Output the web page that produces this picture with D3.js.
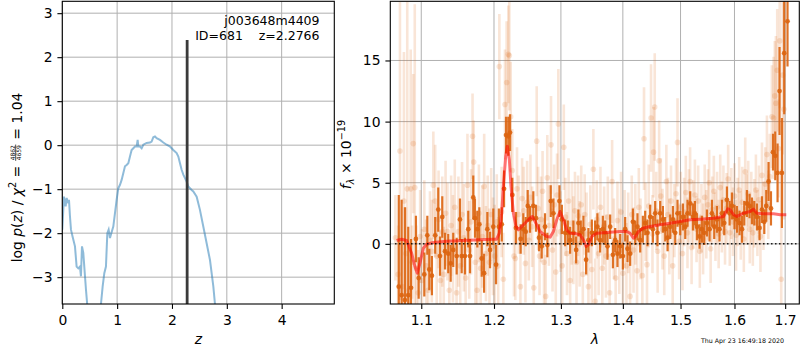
<!DOCTYPE html>
<html>
<head>
<meta charset="utf-8">
<script src="https://cdn.jsdelivr.net/npm/d3@7"></script>
<style>
body { margin: 0; background: #fff; }
text { font-family: "DejaVu Sans", sans-serif; fill: #000; }
</style>
</head>
<body>
<div id="chart"></div>
<script>
// ---- left panel: redshift probability ----
const pzZ = [0.000, 0.030, 0.061, 0.079, 0.109, 0.122, 0.140, 0.158, 0.188, 0.231, 0.261, 0.292, 0.322, 0.340, 0.359, 0.383, 0.401, 0.432, 0.480,
  0.680, 0.705, 0.736, 0.766, 0.796, 0.821, 0.845, 0.869, 0.894, 0.930, 0.960, 0.991, 1.021, 1.052, 1.082, 1.112, 1.143, 1.173, 1.204,
  1.234, 1.264, 1.295, 1.325, 1.356, 1.374, 1.386, 1.416, 1.447, 1.477, 1.538, 1.599, 1.629, 1.660, 1.690, 1.720, 1.781, 1.842, 1.903,
  1.964, 2.024, 2.085, 2.116, 2.146, 2.176, 2.207, 2.237, 2.267, 2.298, 2.328, 2.359, 2.389, 2.450, 2.510, 2.571, 2.632, 2.693, 2.754,
  2.784, 2.820];
const pzLog = [-1.92, -1.17, -1.39, -1.20, -1.32, -1.24, -1.62, -1.92, -2.08, -2.30, -2.76, -2.80, -2.76, -2.98, -2.30, -2.45, -2.76, -3.29, -4.00,
  -4.00, -3.61, -3.21, -2.91, -2.76, -2.00, -1.92, -2.11, -2.00, -1.85, -1.55, -1.24, -0.98, -0.90, -0.79, -0.64, -0.48, -0.45, -0.41,
  -0.26, -0.11, -0.07, -0.03, -0.03, 0.12, -0.03, -0.03, -0.07, 0.01, 0.05, 0.06, 0.08, 0.18, 0.20, 0.16, 0.12, 0.06, 0.01,
  -0.03, -0.11, -0.18, -0.26, -0.41, -0.56, -0.67, -0.75, -0.83, -0.94, -0.98, -1.02, -1.05, -1.17, -1.47, -1.85, -2.23, -2.61, -3.21,
  -3.61, -4.00];
const zBest = 2.2766;
const zBestTop = 2.39;
const zTicks = [0, 1, 2, 3, 4];
const logTicks = [-3, -2, -1, 0, 1, 2, 3];
const fieldName = "j003648m4409";
const idText = "ID=681    z=2.2766";

// ---- right panel: spectrum ----
const modelLam = [1.0680, 1.0744, 1.0809, 1.0874, 1.0917, 1.0948, 1.0983, 1.1027, 1.1071, 1.1160, 1.1339, 1.1568, 1.1801, 1.1990, 1.2038,
  1.2077, 1.2111, 1.2135, 1.2169, 1.2193, 1.2222, 1.2247, 1.2281, 1.2320, 1.2355, 1.2404, 1.2478, 1.2528, 1.2563, 1.2604, 1.2679,
  1.2782, 1.2833, 1.2884, 1.2935, 1.2987, 1.3039, 1.3091, 1.3143, 1.3249, 1.3302, 1.3354, 1.3397, 1.3434, 1.3488, 1.3569, 1.3732,
  1.3954, 1.4066, 1.4122, 1.4179, 1.4207, 1.4264, 1.4350, 1.4465, 1.4638, 1.4815, 1.4993, 1.5173, 1.5356, 1.5604, 1.5792, 1.5874,
  1.5918, 1.5982, 1.6046, 1.6174, 1.6304, 1.6369, 1.6435, 1.6567, 1.6767, 1.6900, 1.7023];
const modelFlux = [0.27, 0.38, 0.27, -0.77, -1.86, -2.40, -1.58, -0.36, -0.03, 0.11, 0.22, 0.27, 0.33, 0.38, 0.38,
  0.87, 2.51, 4.70, 7.16, 7.98, 6.89, 4.70, 2.51, 1.42, 1.15, 1.42, 1.83, 2.10, 2.24, 1.83, 1.01,
  0.60, 0.55, 1.01, 1.97, 2.65, 1.97, 1.15, 0.87, 0.82, 0.74, 0.33, -0.22, -0.08, 0.60, 0.87, 0.93,
  1.01, 1.01, 0.87, 0.46, 0.55, 1.01, 1.29, 1.42, 1.56, 1.69, 1.83, 1.97, 2.02, 2.10, 2.24, 2.87,
  2.79, 2.38, 2.24, 2.51, 2.65, 2.84, 2.51, 2.46, 2.46, 2.38, 2.38];

// binned spectrum (dark points)
const binLam = [1.0708, 1.0745, 1.0787, 1.0830, 1.0866, 1.0930, 1.0966, 1.1040, 1.1080, 1.1106, 1.1141, 1.1185, 1.1226, 1.1249, 1.1280,
  1.1317, 1.1361, 1.1394, 1.1429, 1.1476, 1.1521, 1.1545, 1.1590, 1.1636, 1.1660, 1.1706, 1.1730, 1.1763, 1.1791, 1.1825, 1.1858,
  1.1905, 1.1943, 1.1990, 1.2029, 1.2070, 1.2112, 1.2145, 1.2174, 1.2207, 1.2232, 1.2266, 1.2320, 1.2389, 1.2428, 1.2464, 1.2494,
  1.2528, 1.2578, 1.2618, 1.2664, 1.2705, 1.2755, 1.2791, 1.2843, 1.2884, 1.2977, 1.3015, 1.3066, 1.3108, 1.3144, 1.3196, 1.3239,
  1.3275, 1.3313, 1.3355, 1.3398, 1.3435, 1.3490, 1.3543, 1.3580, 1.3624, 1.3669, 1.3707, 1.3745, 1.3789, 1.3834, 1.3872, 1.3910,
  1.3955, 1.4000, 1.4039, 1.4078, 1.4123, 1.4169, 1.4208, 1.4247, 1.4293, 1.4339, 1.4379, 1.4419, 1.4465, 1.4512, 1.4552, 1.4592,
  1.4639, 1.4687, 1.4728, 1.4769, 1.4816, 1.4864, 1.4905, 1.4946, 1.4994, 1.5043, 1.5085, 1.5126, 1.5175, 1.5224, 1.5260, 1.5297,
  1.5345, 1.5388, 1.5431, 1.5481, 1.5530, 1.5574, 1.5617, 1.5667, 1.5716, 1.5761, 1.5805, 1.5856, 1.5906, 1.5951, 1.6001, 1.6047,
  1.6097, 1.6144, 1.6188, 1.6240, 1.6291, 1.6338, 1.6383, 1.6436, 1.6487, 1.6535, 1.6581, 1.6620, 1.6666, 1.6714, 1.6754, 1.6800,
  1.6846, 1.6886, 1.6934, 1.6981, 1.7048];
const binFlux = [-3.5, -4.2, -4.6, -4.2, -3.6, 0.4, -2.8, -2.5, 0.7, -2.1, -2.6, 0.7, 2.8, -1.0, 2.2,
  -0.6, -0.8, -1.6, -0.5, -1.0, 2.0, -1.0, -1.0, 1.2, -1.0, 3.8, 2.1, 1.2, 1.6, -1.2, -2.4,
  1.2, -0.5, 1.4, -1.7, 1.4, 1.6, 4.5, 8.9, 8.8, 9.1, 4.0, 1.3, 0.4, 1.2, 1.0, 3.1,
  2.0, 3.1, 2.1, 0.5, -0.2, 1.4, -0.1, 3.5, 2.5, 3.5, 2.0, 0.9, 0.9, 0.3, 0.9, -0.5,
  1.7, 0.9, 1.2, -1.3, 0.3, 0.9, 0.9, 1.4, 0.3, 1.2, 0.9, -0.2, 1.4, -0.9, 0.3, -0.8,
  -0.2, -1.0, 1.2, -0.4, -0.8, 1.8, 0.9, 1.4, 0.3, 1.2, 1.7, 0.9, 2.2, 1.2, 2.5, 0.9,
  2.5, 2.0, 1.2, 0.5, 1.4, 2.0, 0.9, 2.5, 1.7, 2.2, 1.4, 2.5, 3.3, 2.2, 2.5, 1.4,
  0.6, 1.2, 0.9, 1.7, 1.2, 2.5, 1.4, 2.0, 1.2, 2.5, 1.7, 3.6, 2.5, 3.1, 2.2, 2.0,
  1.7, 1.2, 2.5, 3.3, 3.1, 2.7, 2.5, 2.2, 1.3, 2.8, 1.8, 3.1, 5.1, 2.9, 7.5, 7.2,
  5.8, 12.5, 5.8, 15.6, 18.2];
const binErr = [7.5, 7.8, 7.6, 5.6, 4.0, 1.9, 1.7, 1.8, 1.6, 1.7, 1.6, 1.5, 1.8, 1.6, 1.7,
  1.5, 1.6, 1.5, 1.4, 1.5, 1.7, 1.4, 1.5, 1.5, 1.4, 1.8, 1.6, 1.5, 1.4, 1.5, 1.6,
  1.4, 1.5, 1.5, 1.6, 1.5, 1.4, 1.5, 1.5, 1.6, 1.5, 1.4, 1.3, 1.2, 1.3, 1.2, 1.3,
  1.1, 1.2, 1.1, 1.1, 1.0, 1.1, 1.0, 1.3, 1.2, 1.3, 1.2, 1.1, 1.0, 1.1, 1.0, 1.1,
  1.1, 1.0, 1.1, 1.2, 1.0, 1.1, 1.0, 1.1, 1.0, 1.1, 1.0, 1.1, 1.0, 1.1, 1.0, 1.1,
  1.0, 1.1, 1.0, 1.1, 1.0, 1.1, 1.0, 1.1, 1.0, 1.1, 1.0, 1.1, 1.0, 1.1, 1.0, 1.1,
  1.0, 1.1, 1.0, 1.1, 1.0, 1.1, 1.0, 1.1, 1.0, 1.1, 1.0, 1.1, 1.0, 1.1, 1.0, 1.1,
  1.0, 1.1, 1.0, 1.1, 1.0, 1.1, 1.0, 1.1, 1.0, 1.1, 1.0, 1.1, 1.0, 1.1, 1.0, 1.1,
  1.0, 1.1, 1.0, 1.1, 1.0, 1.1, 1.0, 1.1, 1.0, 1.1, 1.0, 1.3, 1.6, 1.4, 1.5, 2.0,
  2.4, 3.6, 4.5, 5.0, 3.7];

// individual spectrum pixels (light points)
const rawLam = [1.0665, 1.0700, 1.0723, 1.0750, 1.0774, 1.0800, 1.0817, 1.0840, 1.0862, 1.0880, 1.0895, 1.0915, 1.0935, 1.0960, 1.0985,
  1.1010, 1.1040, 1.1065, 1.1090, 1.1115, 1.1140, 1.1160, 1.1185, 1.1205, 1.1230, 1.1255, 1.1280, 1.1300, 1.1325, 1.1350, 1.1375,
  1.1400, 1.1425, 1.1450, 1.1475, 1.1500, 1.1525, 1.1550, 1.1575, 1.1600, 1.1625, 1.1650, 1.1675, 1.1696, 1.1712, 1.1735, 1.1760,
  1.1785, 1.1810, 1.1835, 1.1860, 1.1885, 1.1910, 1.1935, 1.1960, 1.1985, 1.2010, 1.2040, 1.2060, 1.2077, 1.2110, 1.2135, 1.2159,
  1.2183, 1.2207, 1.2222, 1.2242, 1.2265, 1.2290, 1.2310, 1.2335, 1.2360, 1.2385, 1.2410, 1.2435, 1.2460, 1.2485, 1.2510, 1.2535,
  1.2560, 1.2585, 1.2629, 1.2650, 1.2672, 1.2695, 1.2718, 1.2740, 1.2765, 1.2790, 1.2815, 1.2847, 1.2870, 1.2895, 1.2920, 1.2940,
  1.2960, 1.2995, 1.3020, 1.3045, 1.3070, 1.3095, 1.3120, 1.3145, 1.3170, 1.3195, 1.3220, 1.3245, 1.3270, 1.3295, 1.3320, 1.3345,
  1.3375, 1.3405, 1.3435, 1.3465, 1.3490, 1.3515, 1.3545, 1.3570, 1.3600, 1.3630, 1.3660, 1.3690, 1.3720, 1.3750, 1.3780, 1.3821,
  1.3850, 1.3880, 1.3910, 1.3940, 1.3970, 1.4000, 1.4030, 1.4060, 1.4090, 1.4122, 1.4150, 1.4180, 1.4210, 1.4240, 1.4270, 1.4300,
  1.4330, 1.4359, 1.4385, 1.4410, 1.4440, 1.4480, 1.4505, 1.4523, 1.4544, 1.4570, 1.4595, 1.4621, 1.4650, 1.4680, 1.4710, 1.4748,
  1.4775, 1.4800, 1.4830, 1.4860, 1.4890, 1.4920, 1.4946, 1.4975, 1.5005, 1.5035, 1.5065, 1.5095, 1.5125, 1.5150, 1.5173, 1.5200,
  1.5230, 1.5260, 1.5290, 1.5320, 1.5350, 1.5380, 1.5410, 1.5440, 1.5470, 1.5500, 1.5523, 1.5550, 1.5580, 1.5610, 1.5640, 1.5670,
  1.5700, 1.5730, 1.5760, 1.5790, 1.5820, 1.5850, 1.5880, 1.5910, 1.5940, 1.5970, 1.6000, 1.6030, 1.6060, 1.6090, 1.6120, 1.6150,
  1.6180, 1.6207, 1.6235, 1.6265, 1.6295, 1.6325, 1.6355, 1.6385, 1.6415, 1.6445, 1.6475, 1.6505, 1.6535, 1.6565, 1.6600, 1.6633,
  1.6660, 1.6690, 1.6732, 1.6766, 1.6790, 1.6812, 1.6840, 1.6865, 1.6890, 1.6920, 1.6950, 1.6975];
const rawFlux = [0.5, -2.5, 7.6, -3.5, 3.5, -0.8, 4.5, -3.8, 4.5, -1.5, 8.2, 4.6, -2.0, -4.0, 0.6,
  -3.0, 1.2, -1.8, -3.8, 0.3, -0.6, 4.8, 3.5, -1.0, 2.0, -3.0, 1.0, -2.5, 2.5, 1.0, -3.8,
  1.5, -0.4, 3.0, -4.0, 1.0, -1.8, 2.4, 0.5, -2.8, 4.8, -0.5, 1.8, 8.8, 6.7, -1.5, -3.8,
  2.5, -2.0, 0.6, 4.7, -0.8, 1.5, -1.5, 2.4, -0.2, -1.0, 1.8, -1.8, 14.5, 2.6, -2.9, 11.4,
  13.2, 15.5, 15.4, 10.4, 6.0, -1.0, -1.2, 4.5, 2.4, -3.5, 3.7, 2.7, -1.6, 3.4, 0.3, 3.8,
  1.4, -3.6, 8.4, 2.9, -1.0, 2.0, 4.3, -1.5, -4.3, 5.4, 1.5, 8.1, -0.5, 3.2, -2.3, 4.0,
  9.8, 1.0, -1.8, 7.9, 2.2, -0.8, 3.5, -3.0, 1.7, 0.3, 2.7, -1.5, 2.3, 0.0, 3.2, -2.5,
  2.4, 0.8, -3.5, 1.6, -2.1, 6.1, -4.7, 2.0, -0.8, 3.0, -2.0, 1.5, -1.0, 2.2, -4.0, 5.1,
  0.4, -2.8, 1.9, -0.6, 2.6, -2.4, 1.2, -1.8, 0.9, -4.3, 2.4, -0.5, 1.6, -2.2, 3.0, 0.4,
  -2.6, 8.6, 1.8, -1.7, 3.1, 10.3, 0.8, 7.5, 11.2, 2.7, -0.6, 6.8, 3.9, 1.2, -1.0, 5.1,
  2.4, 0.6, 3.5, -1.8, 1.9, 4.1, 8.3, 0.2, 3.0, -0.8, 2.6, 4.2, 0.9, 3.1, 5.1, -0.3,
  2.4, 4.0, 1.2, 3.5, -0.6, 2.1, 0.4, 3.8, 1.6, 3.2, 5.0, -0.4, 2.8, 4.3, 1.4, 3.0,
  0.8, 4.6, 2.2, 3.6, 1.0, 2.9, 5.3, 0.9, 3.3, 1.8, 3.9, 0.7, 2.6, 4.4, 1.5, 3.4,
  0.4, 5.9, 2.8, 4.1, 1.2, 3.0, 0.9, 2.5, 4.4, 1.7, 3.6, 0.6, 5.6, 2.3, 4.9, 7.3,
  3.2, 5.5, 10.4, 10.3, 12.1, 11.5, 14.2, 7.8, 16.6, -2.9, 13.8, 11.0];
const rawErr = [3.5, 4.0, 12.2, 4.0, 12.2, 3.8, 16.0, 3.5, 11.4, 3.0, 5.7, 15.0, 3.5, 3.5, 3.8,
  4.2, 4.0, 3.8, 4.4, 4.0, 4.2, 4.4, 4.6, 4.3, 4.0, 4.1, 4.5, 3.9, 4.3, 4.0, 4.2,
  4.1, 4.4, 3.9, 4.2, 4.5, 4.0, 4.3, 4.4, 3.9, 4.2, 4.0, 4.3, 3.5, 3.4, 4.1, 4.2,
  4.0, 3.8, 4.2, 4.3, 3.9, 4.1, 4.4, 3.8, 4.0, 4.2, 3.9, 4.0, 4.3, 3.7, 3.8, 4.5,
  5.0, 4.0, 4.5, 4.5, 3.4, 3.3, 3.4, 3.4, 3.2, 3.5, 3.3, 3.6, 3.2, 3.4, 3.3, 3.5,
  3.3, 3.5, 4.5, 3.4, 3.2, 3.5, 3.3, 3.6, 3.4, 3.5, 3.3, 4.0, 3.4, 3.3, 3.5, 3.4,
  4.5, 3.3, 3.4, 3.5, 3.2, 3.4, 3.5, 3.3, 3.4, 3.6, 3.2, 3.4, 3.3, 3.5, 3.2, 3.4,
  3.3, 3.4, 3.5, 3.2, 3.4, 3.3, 3.5, 3.2, 3.4, 3.3, 3.5, 3.2, 3.4, 3.3, 3.2, 3.4,
  3.3, 3.4, 3.2, 3.5, 3.3, 3.4, 3.2, 3.5, 3.3, 3.4, 3.2, 3.5, 3.3, 3.4, 3.2, 3.3,
  3.4, 4.2, 3.2, 3.3, 3.4, 4.4, 3.2, 3.7, 4.4, 3.2, 3.4, 3.3, 3.1, 3.3, 3.2, 3.0,
  3.0, 3.1, 2.9, 3.2, 3.0, 2.9, 3.6, 3.1, 2.9, 3.0, 2.8, 3.0, 2.9, 3.0, 2.8, 3.0,
  2.8, 2.9, 2.7, 2.9, 3.0, 2.8, 2.9, 2.7, 2.8, 2.9, 2.7, 2.8, 2.7, 2.9, 2.8, 2.9,
  2.8, 2.7, 2.9, 2.8, 2.7, 2.9, 2.8, 2.7, 2.9, 2.8, 2.7, 2.9, 2.8, 2.7, 2.8, 2.9,
  2.7, 2.8, 2.9, 2.7, 2.8, 2.9, 2.7, 2.8, 2.9, 2.7, 2.8, 2.9, 2.7, 2.8, 3.0, 3.2,
  2.8, 3.5, 4.2, 5.0, 4.5, 5.5, 5.0, 4.0, 5.5, 9.0, 6.5, 9.0];
const lamTicks = [1.1, 1.2, 1.3, 1.4, 1.5, 1.6, 1.7];
const fluxTicks = [0, 5, 10, 15];
const stamp = "Thu Apr 23 16:49:18 2020";

const W = 800, H = 350;
const fs = 13.9;
const orange = "#dc6410";

const svg = d3.select("#chart").append("svg")
  .attr("width", W).attr("height", H);

const minus = d => d < 0 ? "\u2212" + Math.abs(d) : String(d);

// panel boxes
const L = {x0: 62.3, x1: 334.3, y0: 1.3, y1: 304};
const R = {x0: 390.3, x1: 799.3, y0: 1.3, y1: 304};

const xz = d3.scaleLinear([0, 4.96], [L.x0, L.x1]);
const yp = d3.scaleLinear([-3.61, 3.27], [L.y1, L.y0]);
const xl = d3.scaleLog([1.06, 1.729], [R.x0, R.x1]);
const yf = d3.scaleLinear([-4.92, 19.84], [R.y1, R.y0]);

const defs = svg.append("defs");
[["clipL", L], ["clipR", R]].forEach(([id, b]) => {
  defs.append("clipPath").attr("id", id).append("rect")
    .attr("x", b.x0).attr("y", b.y0).attr("width", b.x1 - b.x0).attr("height", b.y1 - b.y0);
});

function grid(b, xs, xt, ys, yt) {
  const g = svg.append("g").attr("stroke", "#b0b0b0").attr("stroke-width", 1);
  g.selectAll(null).data(xt).join("line")
    .attr("x1", d => xs(d)).attr("x2", d => xs(d)).attr("y1", b.y0).attr("y2", b.y1);
  g.selectAll(null).data(yt).join("line")
    .attr("y1", d => ys(d)).attr("y2", d => ys(d)).attr("x1", b.x0).attr("x2", b.x1);
}

function axes(b, xAxis, yAxis) {
  const gx = svg.append("g").attr("transform", `translate(0,${b.y1})`).call(xAxis);
  const gy = svg.append("g").attr("transform", `translate(${b.x0},0)`).call(yAxis);
  [gx, gy].forEach(g => {
    g.select(".domain").remove();
    g.selectAll(".tick line").attr("stroke", "#000").attr("stroke-width", 1.1);
    g.selectAll(".tick text").attr("font-size", fs).attr("font-family", "DejaVu Sans").attr("fill", "#000");
  });
  svg.append("rect").attr("x", b.x0).attr("y", b.y0)
    .attr("width", b.x1 - b.x0).attr("height", b.y1 - b.y0)
    .attr("fill", "none").attr("stroke", "#000").attr("stroke-width", 1.1);
}

// ---------- left panel ----------
grid(L, xz, zTicks, yp, logTicks);
const gL = svg.append("g").attr("clip-path", "url(#clipL)");
gL.append("path")
  .datum(d3.range(pzZ.length))
  .attr("fill", "none").attr("stroke", "#1f77b4").attr("stroke-opacity", 0.5).attr("stroke-width", 2)
  .attr("d", d3.line().x(i => xz(pzZ[i])).y(i => yp(pzLog[i])));
gL.append("line")
  .attr("x1", xz(zBest)).attr("x2", xz(zBest))
  .attr("y1", yp(-3.61)).attr("y2", yp(zBestTop))
  .attr("stroke", "#3a3a3a").attr("stroke-width", 2.8);

axes(L,
  d3.axisBottom(xz).tickValues(zTicks).tickSize(4.9).tickPadding(6).tickFormat(d3.format("d")),
  d3.axisLeft(yp).tickValues(logTicks).tickSize(4.9).tickPadding(4.9).tickFormat(minus));

svg.append("text").attr("x", 319.5).attr("y", 25).attr("text-anchor", "end")
  .attr("font-size", 12.5).text(fieldName);
svg.append("text").attr("x", 319.5).attr("y", 39.5).attr("text-anchor", "end")
  .attr("font-size", 12.5).style("white-space", "pre").text(idText);

// ---------- right panel ----------
grid(R, xl, lamTicks, yf, fluxTicks);
const gR = svg.append("g").attr("clip-path", "url(#clipR)");

function errPoints(g, lam, flux, err, alpha, r, lw) {
  const idx = d3.range(lam.length);
  g.append("g").selectAll("line").data(idx).join("line")
    .attr("x1", i => xl(lam[i])).attr("x2", i => xl(lam[i]))
    .attr("y1", i => yf(flux[i] - err[i])).attr("y2", i => yf(flux[i] + err[i]))
    .attr("stroke", orange).attr("stroke-opacity", alpha).attr("stroke-width", lw);
  g.append("g").selectAll("circle").data(idx).join("circle")
    .attr("cx", i => xl(lam[i])).attr("cy", i => yf(flux[i])).attr("r", r)
    .attr("fill", orange).attr("fill-opacity", alpha);
}
errPoints(gR, rawLam, rawFlux, rawErr, 0.17, 2.8, 2.6);
errPoints(gR, binLam, binFlux, binErr, 0.9, 2.4, 2.2);

gR.append("path")
  .datum(d3.range(modelLam.length))
  .attr("fill", "none").attr("stroke", "#ff0000").attr("stroke-opacity", 0.55)
  .attr("stroke-width", 3).attr("stroke-linejoin", "round")
  .attr("d", d3.line().x(i => xl(modelLam[i])).y(i => yf(modelFlux[i])));

gR.append("line")
  .attr("x1", xl(1.066)).attr("x2", R.x1).attr("y1", yf(0)).attr("y2", yf(0))
  .attr("stroke", "#000").attr("stroke-opacity", 0.85).attr("stroke-width", 1.5)
  .attr("stroke-dasharray", "1.5,2.5");

axes(R,
  d3.axisBottom(xl).tickValues(lamTicks).tickSize(4.9).tickPadding(6).tickFormat(d3.format(".1f")),
  d3.axisLeft(yf).tickValues(fluxTicks).tickSize(4.9).tickPadding(4.9).tickFormat(d3.format("d")));

// ---------- labels ----------
function mathText(g, parts, size) {
  let x = 0;
  parts.forEach(p => {
    if (p.num) {
      const s = 6;
      const n = g.append("text").attr("font-size", s).attr("text-anchor", "middle").text(p.num);
      const d = g.append("text").attr("font-size", s).attr("text-anchor", "middle").text(p.den);
      const w = Math.max(n.node().getComputedTextLength(), d.node().getComputedTextLength()) + 2;
      n.attr("x", x + w / 2).attr("y", -6.9);
      d.attr("x", x + w / 2).attr("y", -0.9);
      g.append("line").attr("x1", x + 0.5).attr("x2", x + w - 0.5)
        .attr("y1", -6).attr("y2", -6).attr("stroke", "#000").attr("stroke-width", 0.7);
      x += w;
      return;
    }
    const s = p.small ? size * 0.7 : size;
    const t = g.append("text").attr("x", x).attr("y", p.dy || 0)
      .attr("font-size", s).style("white-space", "pre").text(p.t);
    if (p.it) t.attr("font-style", "italic");
    x += t.node().getComputedTextLength();
  });
  return x;
}

function rotLabel(cx, cy, parts) {
  const outer = svg.append("g").attr("transform", `translate(${cx},${cy}) rotate(-90)`);
  const inner = outer.append("g");
  const w = mathText(inner, parts, fs);
  inner.attr("transform", `translate(${-w / 2},0)`);
}

rotLabel(21.7, 177.5, [
  {t: "log "}, {t: "p", it: true}, {t: "("}, {t: "z", it: true}, {t: ") / "},
  {t: "\u03c7", it: true}, {t: "2", small: true, dy: -5.5}, {t: " = "},
  {num: "4862", den: "4659"}, {t: " = 1.04"}
]);

rotLabel(350.7, 154.5, [
  {t: "f", it: true}, {t: "\u03bb", it: true, small: true, dy: 3}, {t: " \u00d7 10"},
  {t: "\u221219", small: true, dy: -5.5}
]);

svg.append("text").attr("x", (L.x0 + L.x1) / 2).attr("y", 343.5).attr("text-anchor", "middle")
  .attr("font-size", fs).attr("font-style", "italic").text("z");
svg.append("text").attr("x", (R.x0 + R.x1) / 2).attr("y", 344).attr("text-anchor", "middle")
  .attr("font-size", fs).attr("font-style", "italic").text("\u03bb");

svg.append("text").attr("x", 742.5).attr("y", 342.5).attr("text-anchor", "middle")
  .attr("font-size", 6.3).text(stamp);
</script>
</body>
</html>
